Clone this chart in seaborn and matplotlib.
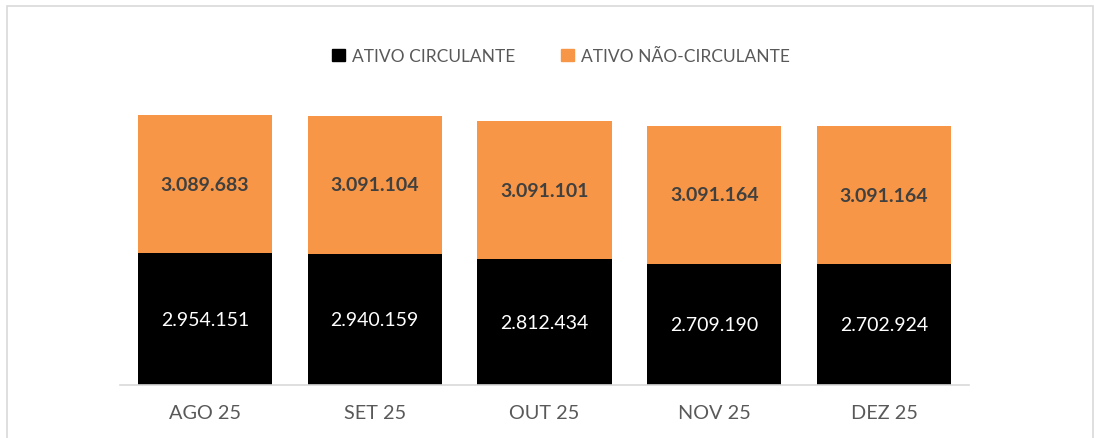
import matplotlib
matplotlib.use("Agg")
import matplotlib.pyplot as plt
import seaborn as sns
from matplotlib.patches import Patch, Rectangle

meses = ["AGO 25", "SET 25", "OUT 25", "NOV 25", "DEZ 25"]
ativo_circulante = [2954151, 2940159, 2812434, 2709190, 2702924]
ativo_nao_circulante = [3089683, 3091104, 3091101, 3091164, 3091164]

laranja = "#F79646"
preto = "#000000"
cinza = "#595959"

sns.set_style("white")
plt.rcParams["font.family"] = ["Lato", "DejaVu Sans"]

fig = plt.figure(figsize=(10.94, 4.39), dpi=100)
ax = fig.add_axes([120 / 1094, 53 / 439, 849 / 1094, 286 / 439])

total = [a + b for a, b in zip(ativo_circulante, ativo_nao_circulante)]
sns.barplot(x=meses, y=total, color=laranja, width=0.79, saturation=1,
            linewidth=0, ax=ax)
sns.barplot(x=meses, y=ativo_circulante, color=preto, width=0.79, saturation=1,
            linewidth=0, ax=ax)


def fmt(v):
    return f"{v:,}".replace(",", ".")


for i, (a, b) in enumerate(zip(ativo_circulante, ativo_nao_circulante)):
    ax.text(i, a / 2, fmt(a), ha="center", va="center", color="white", fontsize=14)
    ax.text(i, a + b / 2, fmt(b), ha="center", va="center", color="#404040",
            fontsize=14, fontweight="bold")

ax.set_xlim(-0.5, 4.5)
ax.set_ylim(0, 286 * 22384)
ax.set_yticks([])
ax.set_xlabel("")
ax.set_ylabel("")
for s in ["top", "right", "left"]:
    ax.spines[s].set_visible(False)
ax.spines["bottom"].set_color("#d9d9d9")
ax.spines["bottom"].set_linewidth(1.2)
ax.set_xticks([i - 0.5 for i in range(6)], minor=True)
ax.tick_params(axis="x", which="minor", length=8, color="#d9d9d9", width=1.2)
ax.tick_params(axis="x", which="major", length=0, pad=14, labelsize=14.3, labelcolor=cinza)

handles = [Patch(color=preto, label="ATIVO CIRCULANTE"),
           Patch(color=laranja, label="ATIVO NÃO-CIRCULANTE")]
fig.legend(handles=handles, loc="center", bbox_to_anchor=(561 / 1094, 1 - 57 / 439),
           ncol=2, frameon=False, fontsize=12.5, labelcolor=cinza,
           handlelength=0.75, handleheight=0.75, handletextpad=0.4, columnspacing=2.6)

# moldura do grafico
fig.patches.append(Rectangle((7 / 1094, -0.1), 1086 / 1094, 1.1 - 7 / 439,
                             transform=fig.transFigure, fill=False,
                             edgecolor="#d9d9d9", linewidth=1.2))

fig.savefig("out.png", dpi=100)
